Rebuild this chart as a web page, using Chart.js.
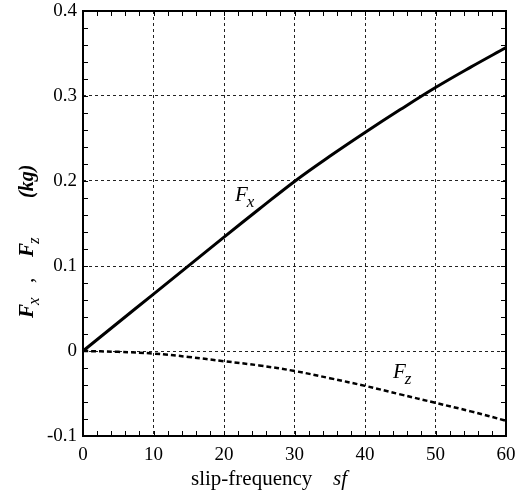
<!DOCTYPE html>
<html lang="en">
<head>
    <meta charset="UTF-8">
    <title>Fx, Fz vs slip-frequency</title>
    <script src="https://cdn.jsdelivr.net/npm/chart.js"></script>
    <style>
        html, body { margin: 0; padding: 0; background: #fff; }
        #wrap { width: 525px; height: 496px; }
    </style>
</head>
<body>
<div id="wrap"><canvas id="grafico" width="525" height="496"></canvas></div>
<script>
    // datos
    const sf = [0, 5, 10, 15, 20, 25, 30, 35, 40, 45, 50, 55, 60];
    const fx = [0, 0.0335, 0.067, 0.1005, 0.134, 0.167, 0.1995, 0.229, 0.257, 0.284, 0.310, 0.334, 0.357];
    const fz = [0, -0.001, -0.003, -0.007, -0.012, -0.017, -0.0235, -0.032, -0.041, -0.051, -0.061, -0.071, -0.082];
    const xTickLabels = ['0', '10', '20', '30', '40', '50', '60'];
    const yTickLabels = ['-0.1', '0', '0.1', '0.2', '0.3', '0.4'];

    const serif = "'Liberation Serif', 'Times New Roman', serif";

    // texto con subindice: F + sub
    function textoSub(ctx, x, y, base, sub, size, bold) {
        ctx.font = (bold ? 'italic bold ' : 'italic ') + size + 'px ' + serif;
        ctx.fillText(base, x, y);
        const w = ctx.measureText(base).width;
        ctx.font = 'italic ' + Math.round(size * 0.8) + 'px ' + serif;
        ctx.fillText(sub, x + w - 1, y + size * 0.3);
        return w + ctx.measureText(sub).width;
    }

    const marco = {
        id: 'marco',
        afterDraw(chart) {
            const ctx = chart.ctx;
            const a = chart.chartArea;
            const xs = chart.scales.x, ys = chart.scales.y;
            ctx.save();
            ctx.strokeStyle = '#000';
            ctx.fillStyle = '#000';

            // ticks menores hacia adentro
            ctx.lineWidth = 1;
            ctx.beginPath();
            for (let v = 0; v <= 60; v += 2) {
                const px = Math.round(xs.getPixelForValue(v)) + 0.5;
                ctx.moveTo(px, a.bottom); ctx.lineTo(px, a.bottom - 5);
                ctx.moveTo(px, a.top); ctx.lineTo(px, a.top + 5);
            }
            for (let i = -5; i <= 20; i++) {
                const py = Math.round(ys.getPixelForValue(i * 0.02)) + 0.5;
                ctx.moveTo(a.left, py); ctx.lineTo(a.left + 5, py);
                ctx.moveTo(a.right, py); ctx.lineTo(a.right - 5, py);
            }
            ctx.stroke();

            // marco
            ctx.lineWidth = 2;
            ctx.strokeRect(a.left, a.top, a.right - a.left, a.bottom - a.top);

            // titulo eje x
            ctx.textBaseline = 'alphabetic';
            ctx.textAlign = 'left';
            ctx.font = '21px ' + serif;
            ctx.fillText('slip-frequency', 191, 485);
            ctx.font = 'italic 21px ' + serif;
            ctx.fillText('sf', 333, 485);

            // etiquetas de curvas
            textoSub(ctx, 235, 201, 'F', 'x', 21, false);
            textoSub(ctx, 393, 378, 'F', 'z', 21, false);

            // titulo eje y (rotado)
            ctx.translate(33, 318);
            ctx.rotate(-Math.PI / 2);
            textoSub(ctx, 0, 0, 'F', 'x', 21, true);
            ctx.font = 'italic 21px ' + serif;
            ctx.fillText(',', 35, 0);
            textoSub(ctx, 61, 0, 'F', 'z', 21, true);
            ctx.font = 'italic bold 20px ' + serif;
            ctx.fillText('(kg)', 120, 0);
            ctx.restore();
        }
    };

    const ctx = document.getElementById('grafico').getContext('2d');
    new Chart(ctx, {
        type: 'line',
        data: {
            datasets: [{
                label: 'Fx',
                data: sf.map((x, i) => ({ x: x, y: fx[i] })),
                borderColor: '#000',
                borderWidth: 3,
                pointRadius: 0,
                tension: 0.4
            }, {
                label: 'Fz',
                data: sf.map((x, i) => ({ x: x, y: fz[i] })),
                borderColor: '#000',
                borderWidth: 2.5,
                borderDash: [5, 3],
                pointRadius: 0,
                tension: 0.4
            }]
        },
        options: {
            responsive: false,
            animation: false,
            devicePixelRatio: 1,
            layout: { padding: { top: 11, right: 19, left: 0, bottom: 0 } },
            plugins: { legend: { display: false }, tooltip: { enabled: false } },
            scales: {
                x: {
                    type: 'linear',
                    min: 0, max: 60,
                    afterFit: s => { s.height = 60; s.paddingLeft = 0; s.paddingRight = 0; },
                    ticks: {
                        stepSize: 10,
                        padding: 8,
                        color: '#000',
                        font: { family: serif, size: 19 },
                        maxRotation: 0,
                        callback: (v, i) => xTickLabels[i]
                    },
                    grid: { color: '#222', lineWidth: 1, drawTicks: false },
                    border: { display: false, dash: [3, 3] }
                },
                y: {
                    min: -0.1, max: 0.4,
                    afterFit: s => { s.width = 83; s.paddingTop = 0; s.paddingBottom = 0; },
                    ticks: {
                        stepSize: 0.1,
                        padding: 6,
                        color: '#000',
                        font: { family: serif, size: 19 },
                        callback: (v, i) => yTickLabels[i]
                    },
                    grid: { color: '#222', lineWidth: 1, drawTicks: false },
                    border: { display: false, dash: [3, 3] }
                }
            }
        },
        plugins: [marco]
    });
</script>
</body>
</html>
